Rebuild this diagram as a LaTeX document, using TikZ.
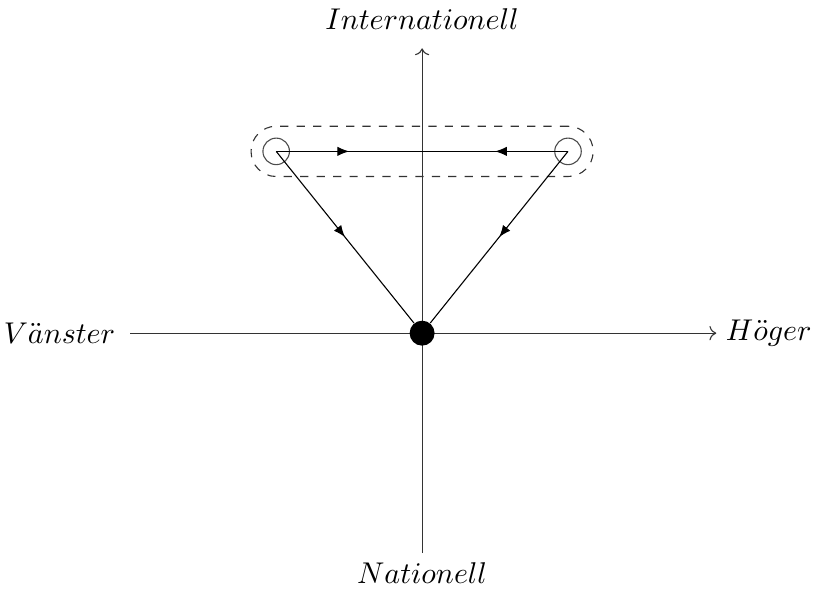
\documentclass[tikz,border=0pt]{standalone}
\usepackage{amsmath,amssymb}
\usepackage{tikz}
\usetikzlibrary{arrows.meta,positioning,fit,decorations.markings}

\begin{document}
\begin{tikzpicture}[
  >={To}, 
  axis/.style={->,thin,black!80},
  pole/.style={circle,draw,black!70,minimum size=3.4mm,inner sep=0pt},
  party/.style={circle,fill=black,minimum size=3.2mm,inner sep=0pt},
  flow/.style={thin,decoration={markings,mark=at position 0.5 with {\arrow{Latex[length=1.5mm,width=1.2mm]}}},postaction={decorate}},
  lbl/.style={font=\fontsize{11.3}{13}\selectfont}]
  \useasboundingbox (-5.41,-3.28) rectangle (5.01,4.27);
  % axes
  \coordinate (w) at (-3.74,0);
  \coordinate (e) at (3.77,0);
  \coordinate (n) at (0,3.65);
  \coordinate (s) at (0,-2.82);
  \draw[axis] (w) -- (e);
  \draw[axis] (s) -- (n);
  \node[lbl,left=0.7mm of w] (vl) {$V\ddot{a}nster$};
  \node[lbl,right=0mm of e] (hl) {$H\ddot{o}ger$};
  \node[lbl,above=1.2mm of n] (il) {$Internationell$};
  \node[lbl,below=0mm of s] (nl) {$Nationell$};
  % positions
  \node[party] (o) at (0,0) {};
  \node[pole] (l) at (-1.87,2.33) {};
  \node[pole] (r) at (1.87,2.33) {};
  \coordinate (m) at (0,2.33);
  \node[draw,dashed,black!80,rounded corners=3.2mm,inner sep=1.45mm,fit=(l)(r)] (grp) {};
  \draw[flow] (l.center) -- (m);
  \draw[flow] (r.center) -- (m);
  \draw[flow] (l.center) -- (o);
  \draw[flow] (r.center) -- (o);
\end{tikzpicture}
\end{document}
